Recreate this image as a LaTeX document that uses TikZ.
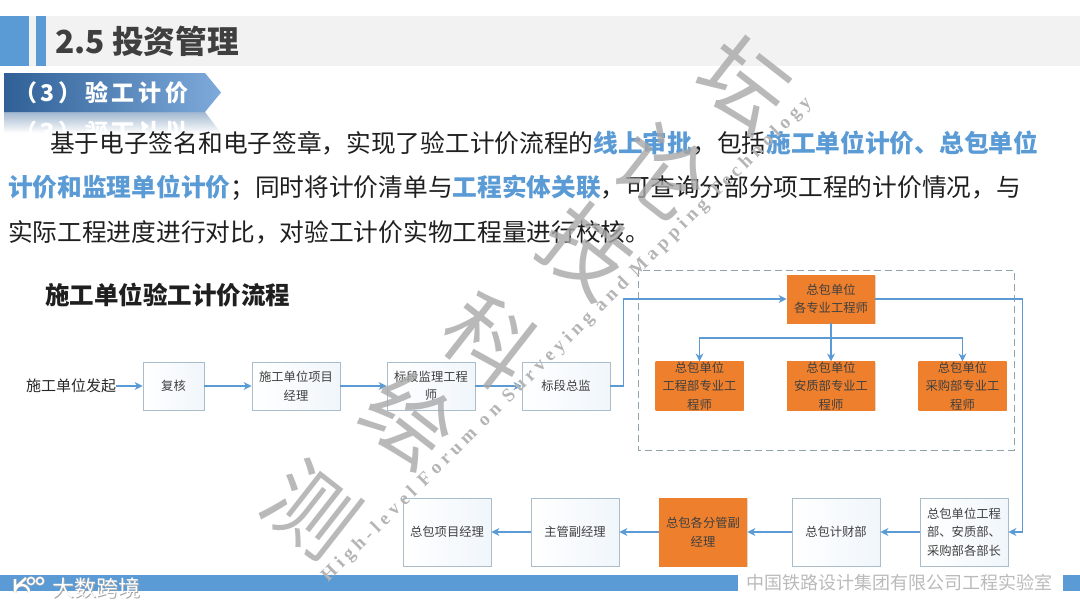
\documentclass[tikz,border=0pt]{standalone}
\usepackage{fontspec}
\setmainfont{Noto Sans CJK SC}
\newfontfamily\wmfont[LetterSpace=25]{Liberation Serif}
\usepackage{xcolor}
\definecolor{railBlue}{HTML}{5B9BD5}
\definecolor{ribbonDark}{HTML}{2F6096}
\definecolor{ribbonLight}{HTML}{7EAADB}
\definecolor{railOrange}{HTML}{EE7F2D}
\definecolor{railEdge}{HTML}{A9BDCB}
\definecolor{railDash}{HTML}{8FA3AD}
\definecolor{railText}{HTML}{3F3F3F}
\definecolor{railMark}{HTML}{A8A8A8}
\usetikzlibrary{arrows.meta,shadows}
\newcommand{\fsize}[1]{\fontsize{#1}{1.5\dimexpr#1pt\relax}\selectfont}
\newcommand{\hl}[1]{\textcolor{railBlue}{\textbf{#1}}}
\tikzset{
  flowbox/.style={draw=railEdge, line width=0.9pt, left color=white, right color=railBlue!9,
    minimum width=88pt, minimum height=48pt, inner sep=0pt, align=center,
    text=railText, font=\fsize{12.3}},
  tallbox/.style={flowbox, minimum height=68pt},
  orangebox/.style={flowbox, draw=none, left color=railOrange, right color=railOrange,
    drop shadow={shadow xshift=0.6pt, shadow yshift=-1pt, opacity=0.25}},
  flowarrow/.style={->, draw=railBlue, line width=1.1pt},
  bodyline/.style={anchor=base west, inner sep=0pt, text=black!88, font=\fsize{24.7}},
  ribbontext/.style={anchor=west, inner sep=0pt, text=white, font=\fsize{23}\bfseries\addfontfeature{LetterSpace=16}},
  markchar/.style={text=railMark, rotate=-38, font=\fsize{88}, opacity=0.8}
}

\begin{document}
\begin{tikzpicture}[x=1pt, y=-1pt, >={Stealth[length=8pt, width=8pt]}]
  \useasboundingbox (0,0) rectangle (1080,608);
  % title band
  \fill[black!5] (0,16) rectangle (1080,66);
  \fill[railBlue] (0,16) rectangle (29,66);
  \fill[railBlue] (36,16) rectangle (46,66);
  \node[anchor=base west, inner sep=0pt, text=railText, font=\fsize{31.7}\bfseries] (title) at (55,53) {2.5 投资管理};
  % ribbon and its reflection
  \shade[top color=ribbonDark!45, bottom color=white] (4,112) -- (205,112) -- (221,133) -- (4,133) -- cycle;
  \begin{scope}
    \clip (4,112) rectangle (221,133);
    \node[ribbontext, yscale=-1] (ribbonecho) at (14,132) {（3）验工计价};
  \end{scope}
  \shade[left color=ribbonDark, right color=ribbonLight] (4,73) -- (205,73) -- (221,92.5) -- (205,112) -- (4,112) -- cycle;
  \node[ribbontext] (ribbon) at (14,92.5) {（3）验工计价};
  % body text
  \node[bodyline] (lineone) at (50,152) {基于电子签名和电子签章，实现了验工计价流程的\hl{线上审批}，包括\hl{施工单位计价、总包单位}};
  \node[bodyline] (linetwo) at (8,196) {\hl{计价和监理单位计价}；同时将计价清单与\hl{工程实体关联}，可查询分部分项工程的计价情况，与};
  \node[bodyline] (linethree) at (8,241) {实际工程进度进行对比，对验工计价实物工程量进行校核。};
  \node[anchor=base west, inner sep=0pt, text=black!88, font=\fsize{24.5}\bfseries] (heading) at (45,304) {施工单位验工计价流程};
  % footer
  \fill[railBlue] (0,575) rectangle (738,591);
  \fill[railBlue] (1063,575) rectangle (1080,591);
  \node[anchor=west, inner sep=0pt, text=black!27, font=\fsize{18}] (lab) at (746,583) {中国铁路设计集团有限公司工程实验室};
  % first row
  \node[anchor=west, inner sep=0pt, text=black!85, font=\fsize{15}] (start) at (26,386) {施工单位发起};
  \node[flowbox, minimum width=61pt] (recheck) at (173.5,386) {复核};
  \node[flowbox] (pm) at (296,386) {施工单位项目\\经理};
  \node[flowbox] (supervisor) at (431,386) {标段监理工程\\师};
  \node[flowbox] (chief) at (566,386) {标段总监};
  % dashed group
  \draw[dash pattern=on 7pt off 4pt, draw=railDash, line width=1pt] (638,270) rectangle (1014,450);
  \node[orangebox] (gcengineers) at (831,299) {总包单位\\各专业工程师};
  \node[orangebox] (gcworks) at (699.5,386) {总包单位\\工程部专业工\\程师};
  \node[orangebox] (gcsafety) at (831,386) {总包单位\\安质部专业工\\程师};
  \node[orangebox] (gcpurchase) at (962.5,386) {总包单位\\采购部专业工\\程师};
  \coordinate (split) at (831,338);
  % bottom row
  \node[tallbox] (heads) at (964,532) {总包单位工程\\部、安质部、\\采购部各部长};
  \node[tallbox] (finance) at (836,532) {总包计财部};
  \node[orangebox, minimum height=68pt] (deputies) at (703,532) {总包各分管副\\经理};
  \node[tallbox] (vicemanager) at (575,532) {主管副经理};
  \node[tallbox] (gcmanager) at (447,532) {总包项目经理};
  % connectors
  \draw[flowarrow] (start) -- (recheck);
  \draw[flowarrow] (recheck) -- (pm);
  \draw[flowarrow] (pm) -- (supervisor);
  \draw[flowarrow] (supervisor) -- (chief);
  \draw[flowarrow] (chief.east) -- ++(13,0) |- (gcengineers.west);
  \draw[flowarrow] (gcengineers.south) -- (gcsafety.north);
  \draw[flowarrow] (split) -| (gcworks.north);
  \draw[flowarrow] (split) -| (gcpurchase.north);
  \draw[flowarrow] (gcengineers.east) -- ++(147,0) |- (heads.east);
  \draw[flowarrow] (heads) -- (finance);
  \draw[flowarrow] (finance) -- (deputies);
  \draw[flowarrow] (deputies) -- (vicemanager);
  \draw[flowarrow] (vicemanager) -- (gcmanager);
  % watermark
  \node[markchar] (markone) at (312,510) {测};
  \node[markchar] (marktwo) at (410,420) {绘};
  \node[markchar] (markthree) at (490,340) {科};
  \node[markchar] (markfour) at (588,250) {技};
  \node[markchar] (markfive) at (662,170) {论};
  \node[markchar] (marksix) at (745,85) {坛};
  \node[text=railMark!85, rotate=44.7, inner sep=0pt, font=\wmfont\fsize{19}\bfseries] (markline) at (567,340) {High-level Forum on Surveying and Mapping Technology};
  % logo
  \draw[draw=black!30, double=white, double distance=1.4pt, line width=0.5pt] (31,581) circle (3.5) (40,581) circle (3.5);
  \draw[draw=black!30, double=white, double distance=2.2pt, line width=0.5pt] (15,579) -- (15,592) arc (180:360:7) (15,588) -- (26,578);
  \node[anchor=west, inner sep=0pt, text=black!35, font=\fsize{22}] (brandshadow) at (52.8,588.8) {大数跨境};
  \node[anchor=west, inner sep=0pt, text=white, font=\fsize{22}] (brand) at (52,588) {大数跨境};
\end{tikzpicture}
\end{document}
